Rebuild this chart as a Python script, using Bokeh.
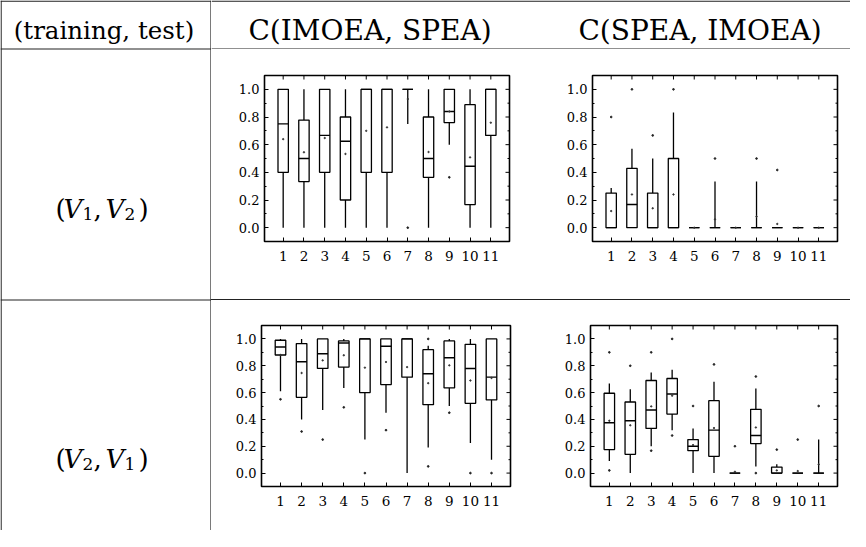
import math
from bokeh.plotting import figure
from bokeh.layouts import row, column
from bokeh.models import (Range1d, FixedTicker, PrintfTickFormatter, Div, ColumnDataSource)
from bokeh.core.properties import value
from bokeh.embed import file_html
from bokeh.resources import INLINE

# ---------------- data ----------------
categories = [1, 2, 3, 4, 5, 6, 7, 8, 9, 10, 11]
x_tick_labels = ["1", "2", "3", "4", "5", "6", "7", "8", "9", "10", "11"]
y_ticks = [0.0, 0.2, 0.4, 0.6, 0.8, 1.0]
y_minor = [0.1, 0.3, 0.5, 0.7, 0.9]
y_tick_labels = ["0.0", "0.2", "0.4", "0.6", "0.8", "1.0"]
col_headers = ["(training, test)", "C(IMOEA, SPEA)", "C(SPEA, IMOEA)"]

# C(IMOEA, SPEA), (V1, V2)
A_lo = [0, 0, 0, 0, 0, 0, 0.75, 0, 0.6, 0, 0]
A_q1 = [0.4, 0.333, 0.4, 0.2, 0.4, 0.4, 1.0, 0.364, 0.76, 0.167, 0.667]
A_med = [0.75, 0.5, 0.667, 0.625, 1.0, 1.0, 1.0, 0.5, 0.84, 0.444, 1.0]
A_q3 = [1.0, 0.778, 1.0, 0.8, 1.0, 1.0, 1.0, 0.8, 1.0, 0.889, 1.0]
A_hi = [1.0, 1.0, 1.0, 1.0, 1.0, 1.0, 1.0, 1.0, 1.0, 1.0, 1.0]
A_mean = [0.64, 0.545, 0.648, 0.533, 0.70, 0.725, 0.93, 0.547, 0.84, 0.508, 0.759]
A_out_x = [7, 9]
A_out_y = [0.0, 0.364]

# C(SPEA, IMOEA), (V1, V2)
B_lo = [0, 0, 0, 0, 0, 0, 0, 0, 0, 0, 0]
B_q1 = [0, 0, 0, 0, 0, 0, 0, 0, 0, 0, 0]
B_med = [0, 0.167, 0, 0, 0, 0, 0, 0, 0, 0, 0]
B_q3 = [0.25, 0.429, 0.25, 0.5, 0, 0, 0, 0, 0, 0, 0]
B_hi = [0.286, 0.571, 0.5, 0.833, 0, 0.333, 0, 0.333, 0, 0, 0]
B_mean = [0.12, 0.24, 0.14, 0.24, 0, 0.06, 0, 0.08, 0.027, 0, 0]
B_out_x = [1, 2, 3, 4, 6, 8, 9]
B_out_y = [0.8, 1.0, 0.667, 1.0, 0.5, 0.5, 0.417]

# C(IMOEA, SPEA), (V2, V1)
C_lo = [0.61, 0.4, 0.47, 0.635, 0.25, 0.45, 0.0, 0.19, 0.5, 0.225, 0.1]
C_q1 = [0.88, 0.565, 0.78, 0.79, 0.6, 0.66, 0.715, 0.51, 0.635, 0.52, 0.545]
C_med = [0.94, 0.83, 0.89, 0.97, 1.0, 0.945, 1.0, 0.74, 0.86, 0.78, 0.715]
C_q3 = [0.99, 0.965, 1.0, 0.985, 1.0, 1.0, 1.0, 0.92, 0.985, 0.96, 1.0]
C_hi = [1.0, 1.0, 1.0, 1.0, 1.0, 1.0, 1.0, 0.95, 1.0, 1.0, 1.0]
C_mean = [0.88, 0.746, 0.84, 0.878, 0.786, 0.828, 0.79, 0.67, 0.803, 0.69, 0.709]
C_out_x = [1, 2, 3, 4, 5, 6, 8, 8, 9, 10, 11]
C_out_y = [0.55, 0.31, 0.25, 0.49, 0.0, 0.32, 1.0, 0.05, 0.45, 0.0, 0.0]

# C(SPEA, IMOEA), (V2, V1)
D_lo = [0.09, 0.0, 0.2, 0.32, 0.0, 0.0, 0.0, 0.05, 0.0, 0.0, 0.0]
D_q1 = [0.175, 0.14, 0.333, 0.44, 0.167, 0.125, 0.0, 0.22, 0.0, 0.0, 0.0]
D_med = [0.375, 0.39, 0.47, 0.59, 0.2, 0.32, 0.0, 0.28, 0.0, 0.0, 0.0]
D_q3 = [0.595, 0.53, 0.69, 0.705, 0.25, 0.54, 0.0, 0.475, 0.045, 0.0, 0.0]
D_hi = [0.667, 0.625, 0.75, 0.77, 0.333, 0.68, 0.005, 0.63, 0.065, 0.0, 0.25]
D_mean = [0.39, 0.356, 0.497, 0.577, 0.209, 0.336, 0.01, 0.34, 0.02, 0.015, 0.065]
D_out_x = [1, 1, 2, 3, 3, 4, 4, 5, 6, 7, 8, 8, 9, 10, 11]
D_out_y = [0.9, 0.02, 0.8, 0.9, 0.167, 1.0, 0.28, 0.5, 0.81, 0.2, 0.72, 0.0, 0.175, 0.25, 0.5]

BOX_W = 0.5
FONT = "DejaVu Serif"
SERIF = value(FONT)


def style_axis(ax):
    ax.axis_line_color = None
    ax.major_tick_in = 4
    ax.major_tick_out = 0
    ax.minor_tick_in = 2
    ax.minor_tick_out = 0
    ax.major_tick_line_color = "black"
    ax.minor_tick_line_color = "black"
    ax.major_tick_line_width = 1
    ax.minor_tick_line_width = 1
    ax.major_label_text_font = FONT
    ax.major_label_text_color = "black"


def boxplot(w, h, bl, br, bt, bb, lo, q1, med, q3, hi, mean, ox, oy):
    xr = Range1d(0.1, 11.9)
    yr = Range1d(-0.1, 1.1)
    p = figure(width=w, height=h, x_range=xr, y_range=yr,
               output_backend="svg", toolbar_location=None,
               min_border_left=bl, min_border_right=br, min_border_top=bt, min_border_bottom=bb)
    p.xgrid.visible = False
    p.ygrid.visible = False
    p.outline_line_color = "black"
    p.outline_line_width = 1.6
    p.background_fill_color = "white"
    p.border_fill_color = "white"

    p.xaxis.ticker = FixedTicker(ticks=categories, minor_ticks=[])
    p.xaxis.major_label_overrides = {c: l for c, l in zip(categories, x_tick_labels)}
    p.yaxis.ticker = FixedTicker(ticks=y_ticks, minor_ticks=y_minor)
    p.yaxis.formatter = PrintfTickFormatter(format="%.1f")
    p.yaxis.major_label_overrides = {t: l for t, l in zip(y_ticks, y_tick_labels)}
    for ax in p.xaxis:
        style_axis(ax)
        ax.major_label_text_font_size = "13.5px"
        ax.major_label_standoff = 9
    for ax in p.yaxis:
        style_axis(ax)
        ax.major_label_text_font_size = "13px"
        ax.major_label_standoff = 5

    # mirrored inward ticks on the top and right edges (half of each dash is clipped by the frame)
    p.scatter(x=categories, y=[yr.end] * len(categories), marker="dash", angle=math.pi / 2,
              size=8, line_color="black", line_width=1)
    p.scatter(x=[xr.end] * len(y_ticks), y=y_ticks, marker="dash", size=8,
              line_color="black", line_width=1)
    p.scatter(x=[xr.end] * len(y_minor), y=y_minor, marker="dash", size=4,
              line_color="black", line_width=1)

    xl = [c - BOX_W / 2 for c in categories]
    xrr = [c + BOX_W / 2 for c in categories]
    src = ColumnDataSource(dict(x=categories, xl=xl, xr=xrr, lo=lo, q1=q1, med=med,
                                q3=q3, hi=hi, mean=mean))
    p.segment(x0="x", y0="lo", x1="x", y1="q1", source=src, line_color="black", line_width=1.3)
    p.segment(x0="x", y0="q3", x1="x", y1="hi", source=src, line_color="black", line_width=1.3)
    p.vbar(x="x", width=BOX_W, bottom="q1", top="q3", source=src,
           fill_color=None, line_color="black", line_width=1.3)
    p.segment(x0="xl", y0="med", x1="xr", y1="med", source=src, line_color="black", line_width=1.4)
    p.scatter(x="x", y="mean", source=src, size=1.4, color="#333333")
    p.scatter(x=ox, y=oy, size=1.7, color="#222222")
    return p


# ---------------- table frame: left column ----------------
L = figure(width=211, height=530, x_range=Range1d(8, 219), y_range=Range1d(538, 8),
           output_backend="svg", toolbar_location=None, min_border=0,
           x_axis_type=None, y_axis_type=None)
L.xgrid.visible = False
L.ygrid.visible = False
L.outline_line_color = None
L.segment(x0=[8.6, 218.5, 8, 8, 8], y0=[8, 8, 8.6, 56.5, 307.5],
          x1=[8.6, 218.5, 219, 219, 219], y1=[538, 538, 8.6, 56.5, 307.5],
          line_color="#222222", line_width=1.2)
L.text(x=[111.5], y=[37.5], text=[col_headers[0]], text_font=SERIF, text_font_size="24.5px",
       text_align="center", text_baseline="alphabetic", text_color="black")


def row_label(p, base, first, second):
    kw = dict(text_font=SERIF, text_baseline="alphabetic", text_color="black", text_align="left")
    p.text(x=[63], y=[base], text=["("], text_font_size="26px", **kw)
    p.text(x=[71], y=[base], text=["V"], text_font_size="26px", text_font_style="italic", **kw)
    p.text(x=[90], y=[base + 5], text=[first], text_font_size="17px", **kw)
    p.text(x=[101], y=[base], text=[","], text_font_size="26px", **kw)
    p.text(x=[113], y=[base], text=["V"], text_font_size="26px", text_font_style="italic", **kw)
    p.text(x=[132], y=[base + 5], text=[second], text_font_size="17px", **kw)
    p.text(x=[146], y=[base], text=[")"], text_font_size="26px", **kw)


row_label(L, 216, "1", "2")
row_label(L, 466, "2", "1")

# ---------------- header on the right ----------------
H = figure(width=639, height=49, x_range=Range1d(219, 858), y_range=Range1d(57, 8),
           output_backend="svg", toolbar_location=None, min_border=0,
           x_axis_type=None, y_axis_type=None)
H.xgrid.visible = False
H.ygrid.visible = False
H.outline_line_color = None
H.segment(x0=[219, 219], y0=[8.6, 56.5], x1=[858, 858], y1=[8.6, 56.5],
          line_color="#222222", line_width=1.2)
H.text(x=[377.5, 707.5], y=[37.5, 37.5], text=col_headers[1:], text_font=SERIF,
       text_font_size="28px", text_align="center", text_baseline="alphabetic", text_color="black")

# ---------------- box plots ----------------
pA = boxplot(341, 250, 53, 43, 26, 58, A_lo, A_q1, A_med, A_q3, A_hi, A_mean, A_out_x, A_out_y)
pB = boxplot(298, 250, 40, 13, 26, 58, B_lo, B_q1, B_med, B_q3, B_hi, B_mean, B_out_x, B_out_y)
pC = boxplot(341, 230, 50, 42, 25, 44, C_lo, C_q1, C_med, C_q3, C_hi, C_mean, C_out_x, C_out_y)
pD = boxplot(298, 230, 38, 13, 25, 44, D_lo, D_q1, D_med, D_q3, D_hi, D_mean, D_out_x, D_out_y)

sep = Div(text="", width=639, height=1, margin=0, styles={"background-color": "#222222"})

right = column(H, row(pA, pB, spacing=0), sep, row(pC, pD, spacing=0), spacing=0)
layout = row(L, right, spacing=0)

open("out.html", "w").write(file_html(layout, INLINE))
